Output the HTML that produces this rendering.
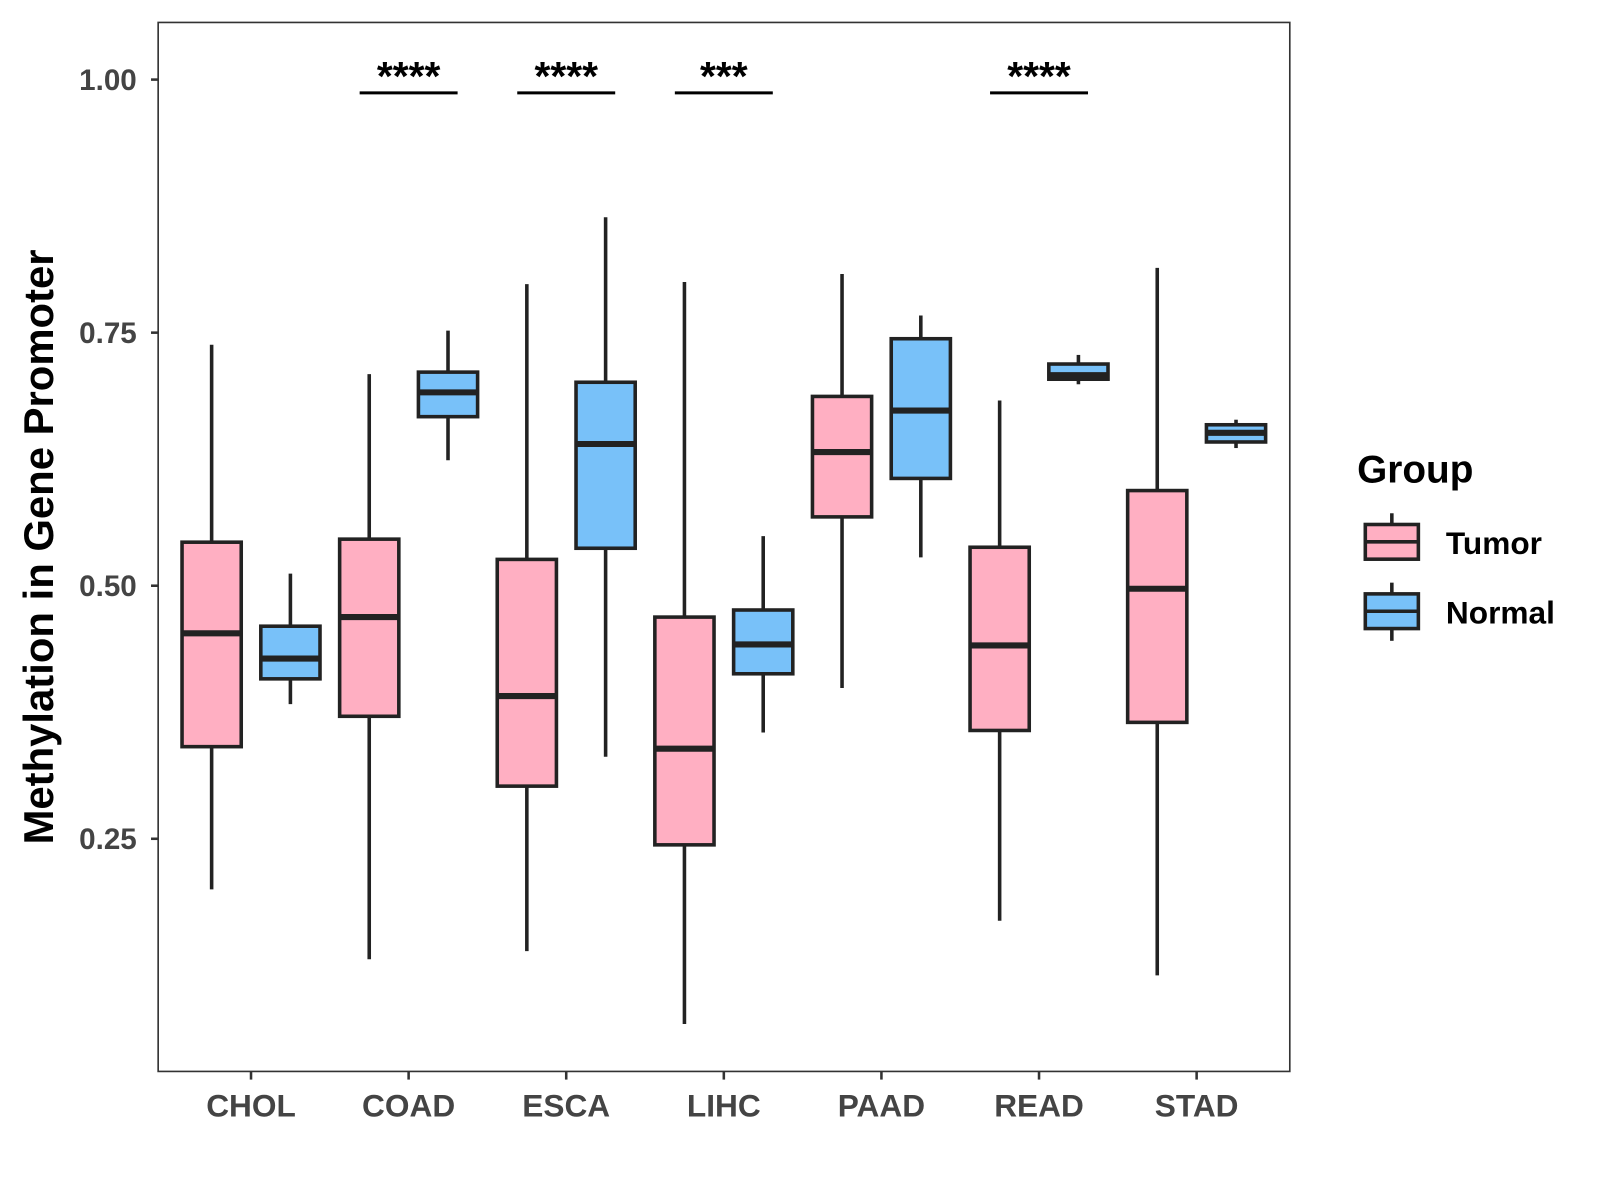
<!DOCTYPE html>
<html><head><meta charset="utf-8"><style>html,body{margin:0;padding:0;background:#fff}svg{display:block}</style></head>
<body>
<svg id="chart" width="1600" height="1200" viewBox="0 0 1568 1176" xmlns="http://www.w3.org/2000/svg" font-family="Liberation Sans, Arial, sans-serif">
<rect x="0" y="0" width="1568" height="1176" fill="#fff"/>
<g id="plot"></g>
<text transform="translate(52,536) rotate(-90)" text-anchor="middle" font-size="41" font-weight="bold" fill="#000">Methylation in Gene Promoter</text>
<g>
<text x="1330" y="473" font-size="38" font-weight="bold">Group</text>
<g>
<line x1="1364" y1="503" x2="1364" y2="532" stroke="#222" stroke-width="3.5"/>
<rect x="1338" y="514" width="52" height="34" fill="#FFAFC2" stroke="#222" stroke-width="3.5"/>
<line x1="1338" y1="531" x2="1390" y2="531" stroke="#222" stroke-width="3.5"/>
<text x="1417" y="543" font-size="31" font-weight="bold">Tumor</text></g>
<g>
<line x1="1364" y1="571" x2="1364" y2="628" stroke="#222" stroke-width="3.5"/>
<rect x="1338" y="582" width="52" height="34" fill="#78C1F9" stroke="#222" stroke-width="3.5"/>
<line x1="1338" y1="599" x2="1390" y2="599" stroke="#222" stroke-width="3.5"/>
<text x="1417" y="611" font-size="31" font-weight="bold">Normal</text></g>
</g>
</svg>
<script>
const categories = ["CHOL","COAD","ESCA","LIHC","PAAD","READ","STAD"];
// [lower whisker, Q1, median, Q3, upper whisker]
const tumorStats = [
 [0.200,0.341,0.453,0.543,0.738],
 [0.131,0.371,0.469,0.546,0.709],
 [0.139,0.302,0.391,0.526,0.798],
 [0.067,0.244,0.339,0.469,0.800],
 [0.399,0.568,0.632,0.687,0.808],
 [0.169,0.357,0.441,0.538,0.683],
 [0.115,0.365,0.497,0.594,0.814]];
const normalStats = [
 [0.383,0.408,0.428,0.460,0.512],
 [0.624,0.667,0.691,0.711,0.752],
 [0.331,0.537,0.640,0.701,0.864],
 [0.355,0.413,0.442,0.476,0.549],
 [0.528,0.606,0.673,0.744,0.767],
 [0.699,0.704,0.708,0.719,0.728],
 [0.636,0.642,0.651,0.659,0.664]];
const sigLabels = ["","****","****","***","","****",""];
const yTicks = [0.25,0.50,0.75,1.00];
const yTickLabels = ["0.25","0.50","0.75","1.00"];

const NS="http://www.w3.org/2000/svg";
const P={l:155,r:1264,t:22,b:1050};
const yS=v=>78+(1-v)*992;
const xS=i=>246+i*154.45;
const g=document.getElementById('plot');
function mk(t,a,p){const e=document.createElementNS(NS,t);for(const k in a)e.setAttribute(k,a[k]);(p||g).appendChild(e);return e;}
const frame=mk('rect',{x:P.l,y:P.t,width:P.r-P.l,height:P.b-P.t,fill:'none',stroke:'#333',"stroke-width":1.6});


yTicks.forEach((v,i)=>{
 const y=yS(v);
 const tk=mk('line',{x1:P.l-7,x2:P.l,y1:y,y2:y,stroke:'#333',"stroke-width":2.5});
 
 
 const t=mk('text',{x:P.l-21,y:y+10,"text-anchor":"end","font-size":29,"font-weight":"bold",fill:'#444'});
 
 
 t.textContent=yTickLabels[i];
});
categories.forEach((c,i)=>{
 const x=xS(i);
 const tk=mk('line',{x1:x,x2:x,y1:P.b,y2:P.b+8,stroke:'#333',"stroke-width":2.5});
 
 
 const t=mk('text',{x:x,y:1094,"text-anchor":"middle","font-size":31,"font-weight":"bold",fill:'#444'});
 
 
 t.textContent=c;
 [[tumorStats[i],-38.6,'#FFAFC2','tumor'],[normalStats[i],38.6,'#78C1F9','normal']].forEach(([s,dx,col,nm])=>{
  const cx=x+dx,w=58;
  const bg=mk('g',{});
  
  
  mk('line',{x1:cx,x2:cx,y1:yS(s[0]),y2:yS(s[4]),stroke:'#222',"stroke-width":3.5},bg);
  mk('rect',{x:cx-w/2,y:yS(s[3]),width:w,height:yS(s[1])-yS(s[3]),fill:col,stroke:'#222',"stroke-width":3.5},bg);
  mk('line',{x1:cx-w/2,x2:cx+w/2,y1:yS(s[2]),y2:yS(s[2]),stroke:'#222',"stroke-width":6},bg);
 });
 if(sigLabels[i]){
  const sg=mk('g',{});
  
  
  mk('line',{x1:x-48,x2:x+48,y1:91,y2:91,stroke:'#000',"stroke-width":3},sg);
  const t=mk('text',{x:x,y:88,"text-anchor":"middle","font-size":40,"font-weight":"bold"},sg);
  t.textContent=sigLabels[i];
 }
});
</script>
</body></html>
